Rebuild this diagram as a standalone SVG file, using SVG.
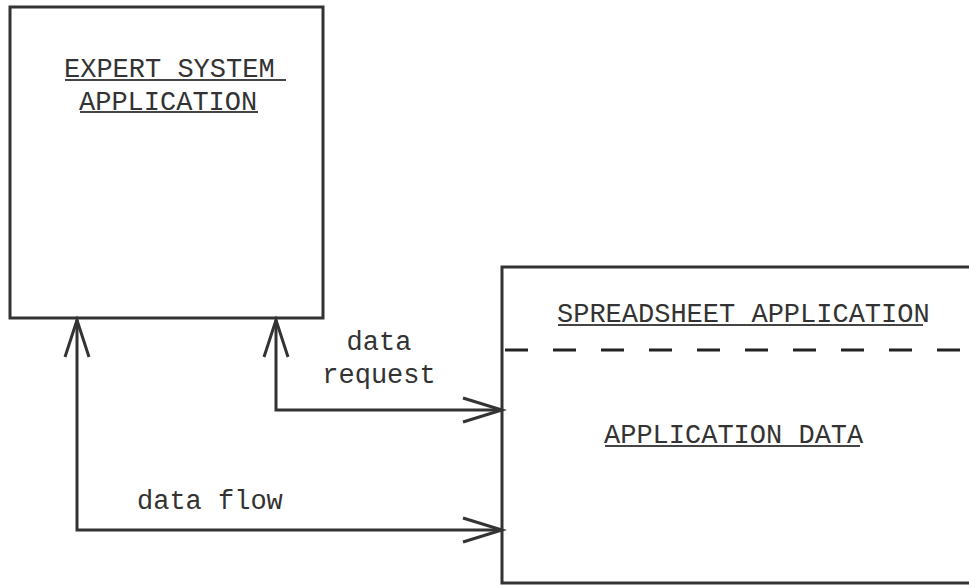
<svg xmlns="http://www.w3.org/2000/svg" width="969" height="585" viewBox="0 0 969 585">
<style>
.box{fill:none;stroke:#333;stroke-width:3}
.ln{fill:none;stroke:#333;stroke-width:3}
.ul{stroke:#444;stroke-width:2}
.t{font-family:"Liberation Mono","Courier New",monospace;font-size:27px;fill:#333}
.lbl{font-family:"Liberation Mono","Courier New",monospace;font-size:27px;fill:#333}
</style>
<rect width="969" height="585" fill="#fff"/>
<g id="expert-system">
<rect class="box" x="10" y="7" width="313" height="311"/>
<text class="t" x="64" y="77">EXPERT SYSTEM</text>
<line class="ul" x1="65" y1="80" x2="286" y2="80"/>
<text class="t" x="79" y="110">APPLICATION</text>
<line class="ul" x1="80" y1="112" x2="258" y2="112"/>
</g>
<g id="spreadsheet">
<rect class="box" x="502" y="267" width="500" height="316"/>
<text class="t" x="557" y="322">SPREADSHEET APPLICATION</text>
<line class="ul" x1="558" y1="325" x2="923" y2="325"/>
<line x1="505" y1="350" x2="969" y2="350" stroke="#222" stroke-width="3" stroke-dasharray="23 25"/>
<text class="t" x="604" y="443">APPLICATION DATA</text>
<line class="ul" x1="605" y1="446" x2="860" y2="446"/>
</g>
<g id="connectors">
<polyline class="ln" points="77,320 77,530 502,530"/>
<polyline class="ln" points="65,357 77,320 89,357"/>
<polyline class="ln" points="463,518 502,530 463,542"/>
<polyline class="ln" points="276,320 276,410 502,410"/>
<polyline class="ln" points="264,357 276,320 288,357"/>
<polyline class="ln" points="463,398 502,410 463,422"/>
<text class="lbl" x="379" y="350" text-anchor="middle">data</text>
<text class="lbl" x="379" y="383" text-anchor="middle">request</text>
<text class="lbl" x="137" y="509">data flow</text>
</g>
</svg>
